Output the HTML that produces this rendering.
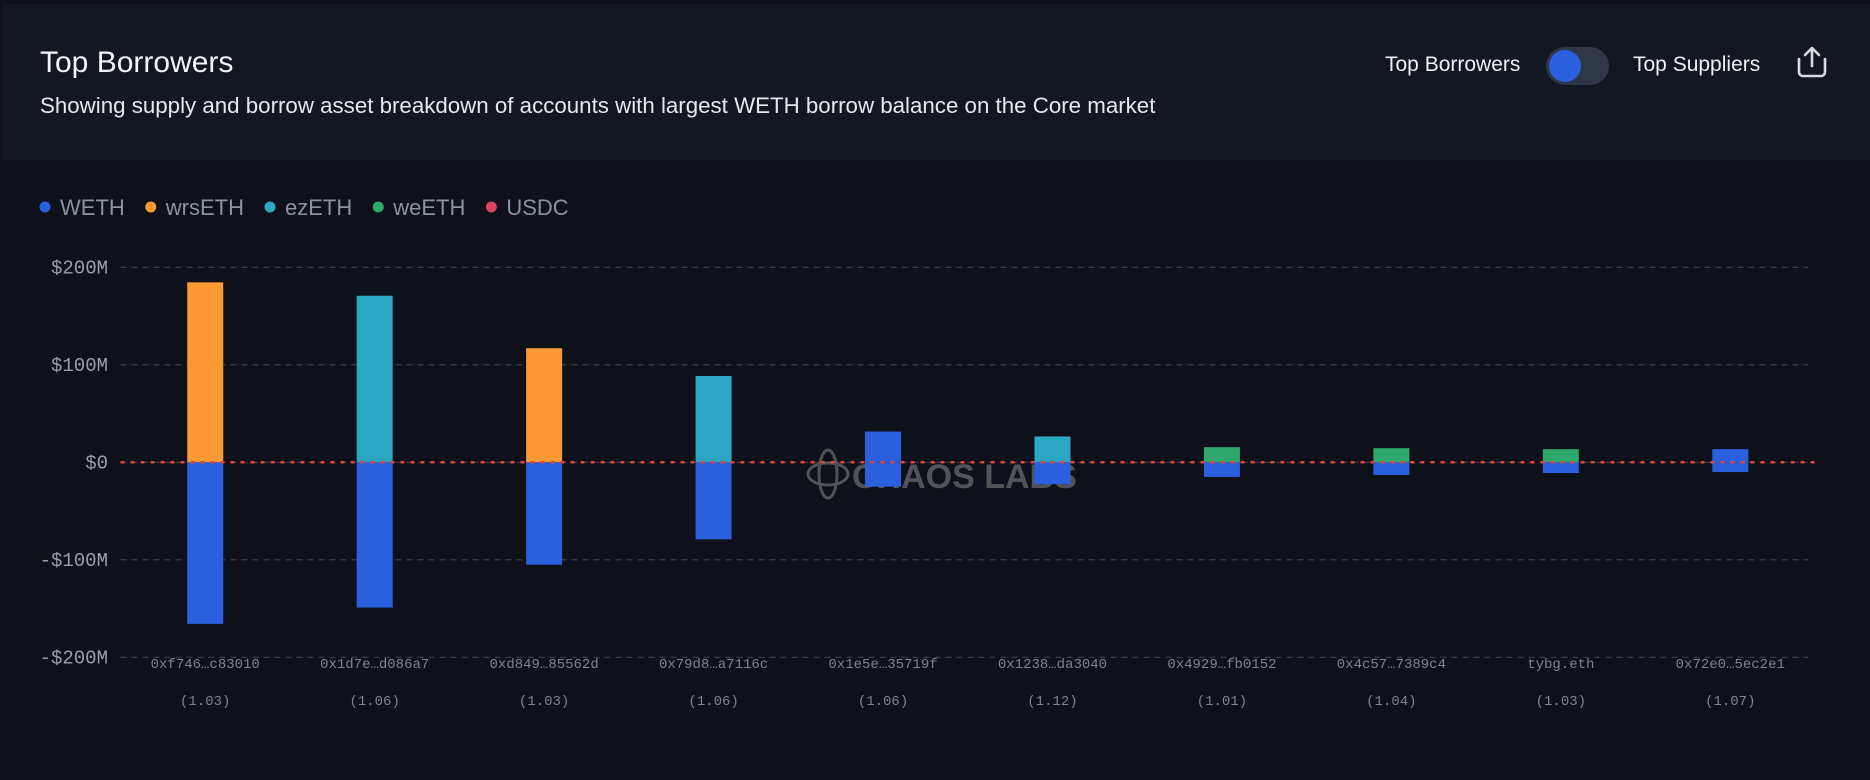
<!DOCTYPE html>
<html><head><meta charset="utf-8"><style>
body{margin:0;width:1870px;height:780px;background:#0e1119;overflow:hidden;font-family:"Liberation Sans",sans-serif;}
#hdr{position:absolute;left:2px;top:4px;width:1868px;height:156px;background:#131722;}
#title{position:absolute;left:40px;top:46px;font-size:30px;color:#f2f3f5;}
#sub{position:absolute;left:40px;top:93px;font-size:22.3px;color:#e6e8ec;}
.tl{position:absolute;top:53px;font-size:21px;color:#eef0f3;}
#tog{position:absolute;left:1546px;top:47px;width:63px;height:38px;border-radius:19px;background:#2e3647;}
#knob{position:absolute;left:3px;top:3px;width:32px;height:32px;border-radius:16px;background:#2a60dd;}
svg{position:absolute;left:0;top:0;}
</style></head><body>
<div id="hdr"></div>
<div id="title">Top Borrowers</div>
<div id="sub">Showing supply and borrow asset breakdown of accounts with largest WETH borrow balance on the Core market</div>
<div class="tl" style="left:1385px">Top Borrowers</div>
<div id="tog"><div id="knob"></div></div>
<div class="tl" style="left:1633px">Top Suppliers</div>
<svg width="1870" height="780" id="chart">
<g fill="none" stroke="#d8dbe0" stroke-width="2.6" stroke-linecap="round" stroke-linejoin="round">
<path d="M1799 59 v13 a4 4 0 0 0 4 4 h18 a4 4 0 0 0 4 -4 v-13"/><path d="M1812 66 v-18 M1805 55 l7 -7 l7 7"/>
</g>
</svg>
<script>
const categories=["0xf746…c83010","0x1d7e…d086a7","0xd849…85562d","0x79d8…a7116c","0x1e5e…35719f","0x1238…da3040","0x4929…fb0152","0x4c57…7389c4","tybg.eth","0x72e0…5ec2e1"];
const healthFactors=["(1.03)","(1.06)","(1.03)","(1.06)","(1.06)","(1.12)","(1.01)","(1.04)","(1.03)","(1.07)"];
const wethSupply=[0,0,0,0,31.5,0,0,0,0,13.5];
const wrsethSupply=[184.6,0,117,0,0,0,0,0,0,0];
const ezethSupply=[0,170.8,0,88.5,0,26.5,0,0,0,0];
const weethSupply=[0,0,0,0,0,0,15.5,14.5,13.5,0];
const wethBorrow=[-165.7,-149,-105,-79,-25,-22.5,-15,-13,-11,-10];
const yTicks=[200,100,0,-100,-200];
const yTickLabels=["$200M","$100M","$0","-$100M","-$200M"];
const legendNames=["WETH","wrsETH","ezETH","weETH","USDC"];
const legendColors=["#2a60dd","#fb9a34","#2ca8c6","#2ea86b","#d9435e"];

const NS="http://www.w3.org/2000/svg";
const svg=document.getElementById('chart');
const x0=120.5,x1=1815,y0=462.3,pxPerM=0.975;
const band=(x1-x0)/categories.length,bw=36;
const y=v=>y0-v*pxPerM;
const xc=i=>x0+band*(i+0.5);
function mk(t,a){const e=document.createElementNS(NS,t);for(const k in a)e.setAttribute(k,a[k]);svg.appendChild(e);return e;}

// legend
let lx=45;
legendNames.forEach((n,i)=>{
 const c=mk('circle',{cx:lx,cy:207,r:5.5,fill:legendColors[i]});
 
 
 const t=mk('text',{x:lx+15,y:215,fill:'#8b93a3','font-size':22,'font-family':'Liberation Sans, sans-serif'});
 t.textContent=n;
 
 
 lx+=15+t.getComputedTextLength()+26;
});

// grid + y ticks
yTicks.forEach((v,i)=>{
 const l=mk('line',{x1:x0,x2:1808,y1:y(v),y2:y(v),stroke:'#3d424d','stroke-width':1.2,'stroke-dasharray':'6 5'});
 
 
 const t=mk('text',{x:108,y:y(v)+6,fill:'#9aa0ab','font-size':19,'text-anchor':'end','font-family':'Liberation Mono, monospace'});
 t.textContent=yTickLabels[i];
 
 
});

// watermark
const wm=mk('g',{opacity:0.55});


const we=document.createElementNS(NS,'ellipse');we.setAttribute('cx',828);we.setAttribute('cy',474);we.setAttribute('rx',9);we.setAttribute('ry',24);we.setAttribute('fill','none');we.setAttribute('stroke','#888');we.setAttribute('stroke-width',3);wm.appendChild(we);
const we2=document.createElementNS(NS,'ellipse');we2.setAttribute('cx',828);we2.setAttribute('cy',474);we2.setAttribute('rx',20);we2.setAttribute('ry',11);we2.setAttribute('fill','none');we2.setAttribute('stroke','#888');we2.setAttribute('stroke-width',3);wm.appendChild(we2);
const wt=document.createElementNS(NS,'text');wt.setAttribute('x',852);wt.setAttribute('y',488);wt.setAttribute('fill','#8a8a8a');wt.setAttribute('font-size',34);wt.setAttribute('font-weight','bold');wt.setAttribute('font-family','Liberation Sans, sans-serif');wt.textContent='CHAOS LABS';wm.appendChild(wt);

// bars
function bar(i,v,color,name){
 if(!v)return;
 const top=v>0?y(v):y0, h=Math.abs(v)*pxPerM;
 const r=mk('rect',{x:xc(i)-bw/2,y:top,width:bw,height:h,fill:color});
 
 
}
categories.forEach((c,i)=>{
 bar(i,wrsethSupply[i],legendColors[1],'wrseth');
 bar(i,ezethSupply[i],legendColors[2],'ezeth');
 bar(i,weethSupply[i],legendColors[3],'weeth');
 bar(i,wethSupply[i],legendColors[0],'weth-supply');
 bar(i,wethBorrow[i],legendColors[0],'weth-borrow');
 const t=mk('text',{x:xc(i),y:668,fill:'#7d838f','font-size':14,'text-anchor':'middle','font-family':'Liberation Mono, monospace'});
 t.textContent=c;
 
 
 const h=mk('text',{x:xc(i),y:705,fill:'#7d838f','font-size':14,'text-anchor':'middle','font-family':'Liberation Mono, monospace'});
 h.textContent=healthFactors[i];
 
 
});

// zero line
const z=mk('line',{x1:x0,x2:x1,y1:y0,y2:y0,stroke:'#e0443a','stroke-width':2.5,'stroke-dasharray':'4 6'});


</script>
</body></html>
